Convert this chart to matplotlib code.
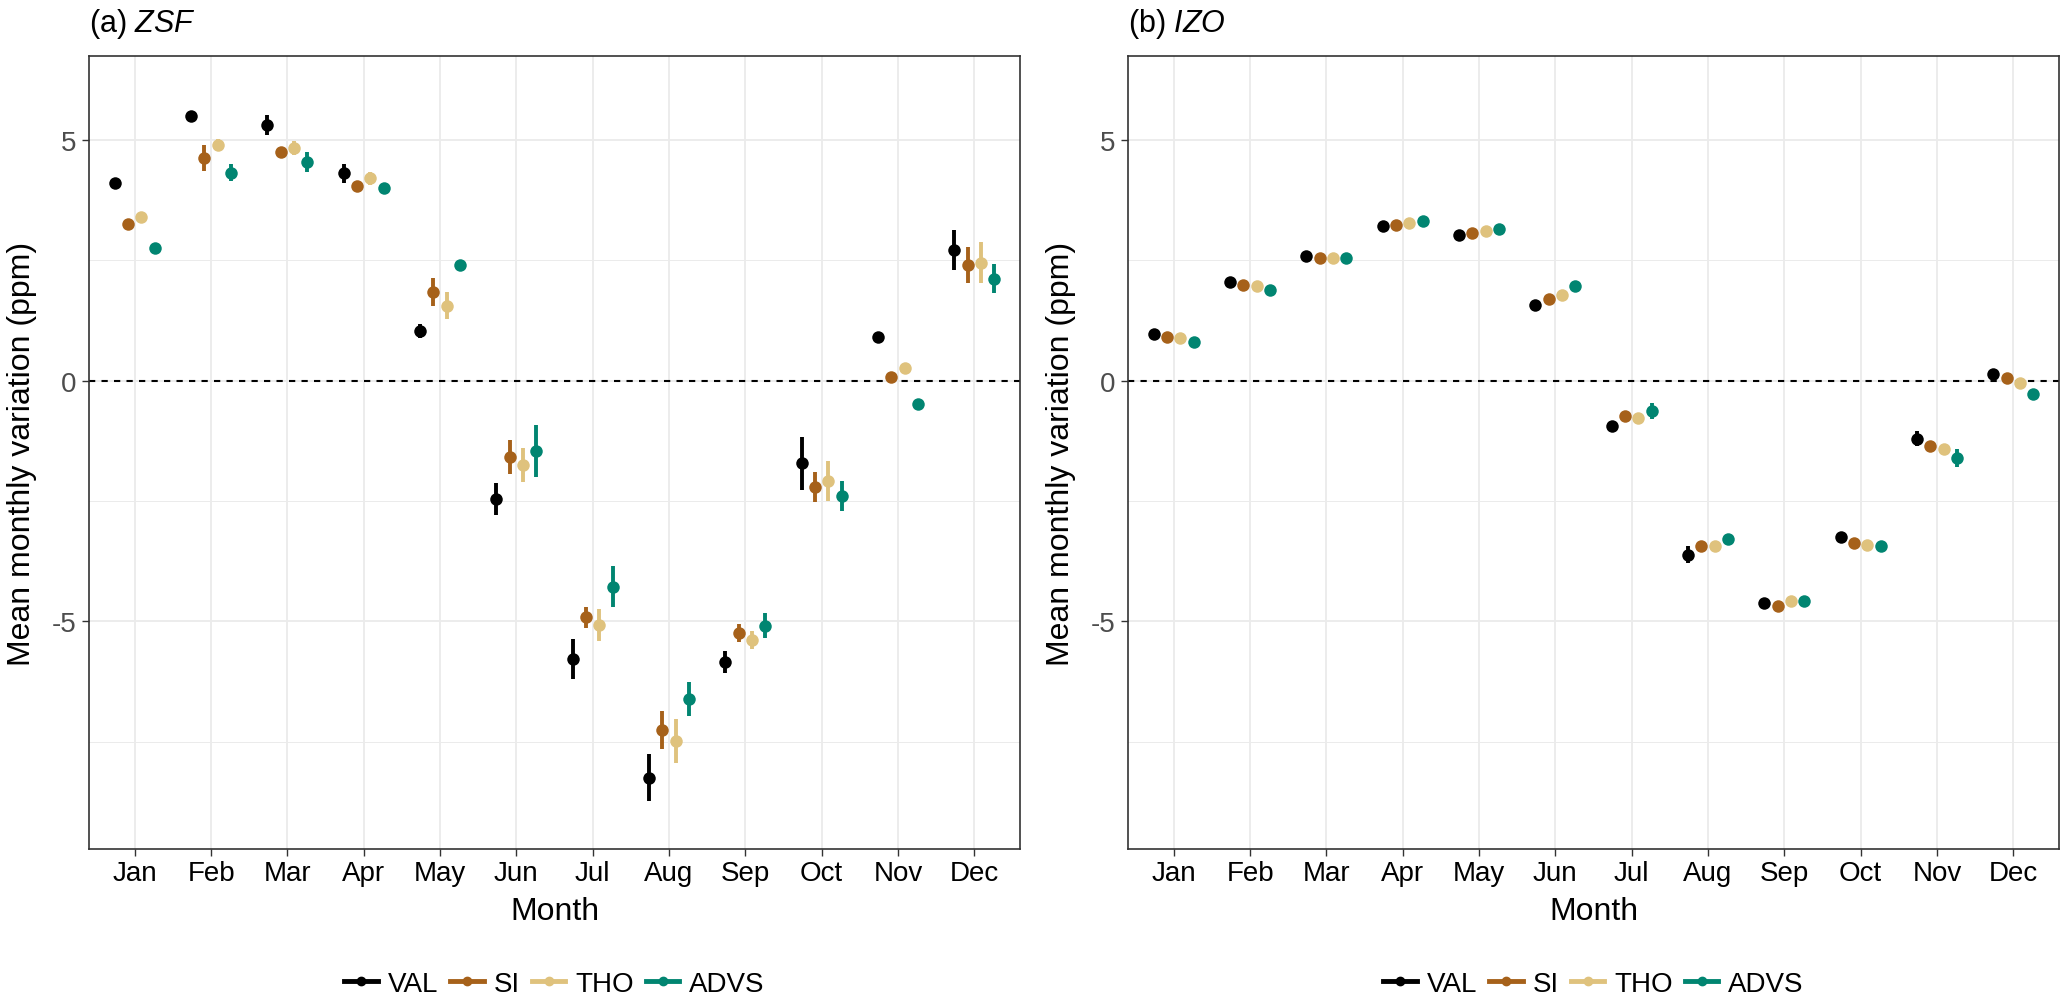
import numpy as np
import matplotlib
matplotlib.use('Agg')
import matplotlib.pyplot as plt
from matplotlib.lines import Line2D

plt.rcParams['font.family'] = ['Liberation Sans', 'DejaVu Sans']
plt.rcParams['mathtext.fontset'] = 'custom'
plt.rcParams['mathtext.rm'] = 'Liberation Sans'
plt.rcParams['mathtext.it'] = 'Liberation Sans:italic'
plt.rcParams['axes.unicode_minus'] = False

months = ['Jan', 'Feb', 'Mar', 'Apr', 'May', 'Jun',
          'Jul', 'Aug', 'Sep', 'Oct', 'Nov', 'Dec']
series = ['VAL', 'SI', 'THO', 'ADVS']
colors = ['#000000', '#A6611A', '#DFC27D', '#018571']

# (a) ZSF
zsf_val = [4.10, 5.49, 5.31, 4.30, 1.03, -2.46, -5.78, -8.25, -5.85, -1.72, 0.91, 2.71]
zsf_val_err = [0.06, 0.08, 0.21, 0.20, 0.15, 0.33, 0.42, 0.49, 0.23, 0.55, 0.05, 0.42]
zsf_si = [3.25, 4.63, 4.74, 4.04, 1.83, -1.59, -4.92, -7.26, -5.25, -2.22, 0.07, 2.40]
zsf_si_err = [0.06, 0.27, 0.06, 0.08, 0.29, 0.35, 0.21, 0.40, 0.19, 0.31, 0.05, 0.38]
zsf_tho = [3.39, 4.90, 4.83, 4.20, 1.55, -1.75, -5.08, -7.49, -5.39, -2.09, 0.25, 2.45]
zsf_tho_err = [0.06, 0.12, 0.14, 0.14, 0.28, 0.35, 0.33, 0.45, 0.19, 0.41, 0.05, 0.42]
zsf_advs = [2.76, 4.32, 4.54, 3.99, 2.40, -1.47, -4.28, -6.61, -5.09, -2.39, -0.49, 2.11]
zsf_advs_err = [0.05, 0.18, 0.20, 0.06, 0.08, 0.54, 0.43, 0.35, 0.26, 0.31, 0.05, 0.30]

# (b) IZO
izo_val = [0.97, 2.05, 2.59, 3.20, 3.02, 1.57, -0.94, -3.62, -4.63, -3.24, -1.21, 0.13]
izo_val_err = [0.04, 0.04, 0.04, 0.04, 0.04, 0.07, 0.05, 0.18, 0.04, 0.06, 0.16, 0.07]
izo_si = [0.91, 1.98, 2.54, 3.24, 3.06, 1.69, -0.74, -3.44, -4.68, -3.37, -1.37, 0.05]
izo_si_err = [0.04, 0.04, 0.04, 0.04, 0.04, 0.07, 0.05, 0.08, 0.04, 0.05, 0.06, 0.04]
izo_tho = [0.88, 1.96, 2.54, 3.28, 3.11, 1.78, -0.78, -3.44, -4.57, -3.42, -1.42, -0.05]
izo_tho_err = [0.04, 0.04, 0.04, 0.04, 0.04, 0.07, 0.05, 0.06, 0.04, 0.05, 0.06, 0.04]
izo_advs = [0.79, 1.89, 2.54, 3.32, 3.15, 1.97, -0.63, -3.30, -4.57, -3.43, -1.61, -0.28]
izo_advs_err = [0.04, 0.04, 0.04, 0.04, 0.04, 0.08, 0.17, 0.05, 0.04, 0.05, 0.19, 0.04]

panels = [
    ('(a) $\\mathit{ZSF}$',
     [zsf_val, zsf_si, zsf_tho, zsf_advs],
     [zsf_val_err, zsf_si_err, zsf_tho_err, zsf_advs_err]),
    ('(b) $\\mathit{IZO}$',
     [izo_val, izo_si, izo_tho, izo_advs],
     [izo_val_err, izo_si_err, izo_tho_err, izo_advs_err]),
]

W, H = 2067, 1003
fig = plt.figure(figsize=(W / 100, H / 100), dpi=100)

dodge = [-0.2625, -0.0875, 0.0875, 0.2625]
x = np.arange(1, 13)
panel_left = [89, 1128]
panel_w = 931
top, bottom = 57, 850

for i, (title, vals, errs) in enumerate(panels):
    ax = fig.add_axes([panel_left[i] / W, 1 - bottom / H,
                       panel_w / W, (bottom - top) / H])
    ax.set_xlim(0.4, 12.6)
    ax.set_ylim(-9.73, 6.74)

    ax.set_yticks([-5, 0, 5])
    ax.set_yticklabels(['-5', '0', '5'])
    ax.set_yticks([-7.5, -2.5, 2.5], minor=True)
    ax.set_xticks(x)
    ax.set_xticklabels(months)
    ax.grid(True, which='major', color='#EBEBEB', lw=1.3, zorder=0)
    ax.grid(True, which='minor', axis='y', color='#EBEBEB', lw=0.7, zorder=0)
    ax.tick_params(which='minor', length=0)
    ax.tick_params(which='major', length=5, width=1, color='#333333')
    ax.tick_params(axis='x', labelsize=20, labelcolor='black', pad=3)
    ax.tick_params(axis='y', labelsize=20, labelcolor='#4D4D4D', pad=4)
    for sp in ax.spines.values():
        sp.set_color('#333333')
        sp.set_linewidth(1.2)
    ax.set_axisbelow(True)

    ax.axhline(0, color='black', lw=1.5, ls=(0, (3, 3)), zorder=1)

    for k in range(4):
        ax.errorbar(x + dodge[k], vals[k], yerr=errs[k], fmt='o',
                    color=colors[k], ms=9, mew=0, elinewidth=2.8,
                    capsize=0, zorder=3)

    cx = (panel_left[i] + panel_w / 2) / W
    fig.text(panel_left[i] / W, 1 - 32 / H, title, fontsize=22,
             ha='left', va='baseline')
    fig.text(cx, 1 - 912 / H, 'Month', fontsize=23, ha='center', va='center')
    fig.text((panel_left[i] - 67) / W, 1 - (top + bottom) / 2 / H,
             'Mean monthly variation (ppm)', fontsize=23, rotation=90,
             ha='center', va='center')

    handles = [Line2D([], [], color=c, lw=3.5, marker='o', ms=6)
               for c in colors]
    fig.legend(handles, series, loc='center', bbox_to_anchor=(cx, 1 - 985 / H),
               ncol=4, frameon=False, fontsize=20, handlelength=1.2,
               handletextpad=0.35, columnspacing=0.45)

fig.savefig('out.png', dpi=100)
